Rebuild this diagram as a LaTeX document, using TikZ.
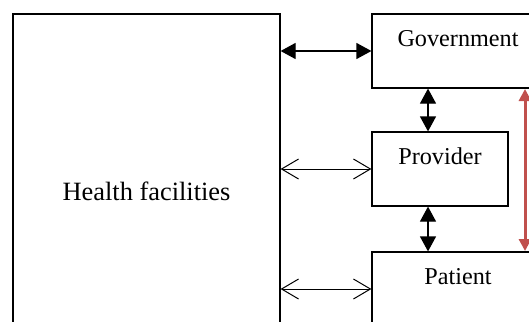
\documentclass[tikz,border=0pt]{standalone}
\usepackage{fontspec}
\setmainfont{Liberation Serif}
\usetikzlibrary{arrows.meta}
\definecolor{linkred}{RGB}{192,80,77}
\begin{document}
\begin{tikzpicture}[x=0.5pt,y=-0.5pt,
    box/.style={draw,line width=0.6pt,inner sep=0pt,font=\fontsize{12.1}{14.5}\selectfont},
    toptext/.style={text height=8pt,text depth=13pt},
    solidlink/.style={{Triangle[length=7.5pt,width=8pt]}-{Triangle[length=7.5pt,width=8pt]},line width=0.6pt},
    openlink/.style={{Straight Barb[length=8.5pt,width=10pt]}-{Straight Barb[length=8.5pt,width=10pt]},line width=0.5pt},
    redlink/.style={{Triangle[length=6pt,width=6pt]}-{Triangle[length=6pt,width=6pt]},line width=1.5pt,linkred}]
  \useasboundingbox (0,0) rectangle (529,321);
  \clip (0,0) rectangle (529,321);
  \draw
    (146.5,191) node[box,font=\fontsize{13.2}{16}\selectfont,minimum width=133.5pt,minimum height=177pt] (hf){Health facilities}
    (458,51) node[box,toptext,minimum width=86pt,minimum height=37pt] (gov){Government}
    (440,169) node[box,toptext,minimum width=68pt,minimum height=37pt] (prov){Provider}
    (458,289) node[box,toptext,minimum width=86pt,minimum height=37pt] (pat){Patient};
  \coordinate (mid) at (428,0);
  \coordinate (redtop) at (525,89);
  \coordinate (redbot) at (525,251);
  \begin{scope}
    \draw[solidlink] (hf.east |- gov.west) to (gov.west);
    \draw[openlink] (hf.east |- prov.west) to (prov.west);
    \draw[openlink] (hf.east |- pat.west) to (pat.west);
    \draw[solidlink] (gov.south -| mid) to (prov.north -| mid);
    \draw[solidlink] (prov.south -| mid) to (pat.north -| mid);
    \draw[redlink] (redtop) to (redbot);
  \end{scope}
\end{tikzpicture}
\end{document}
